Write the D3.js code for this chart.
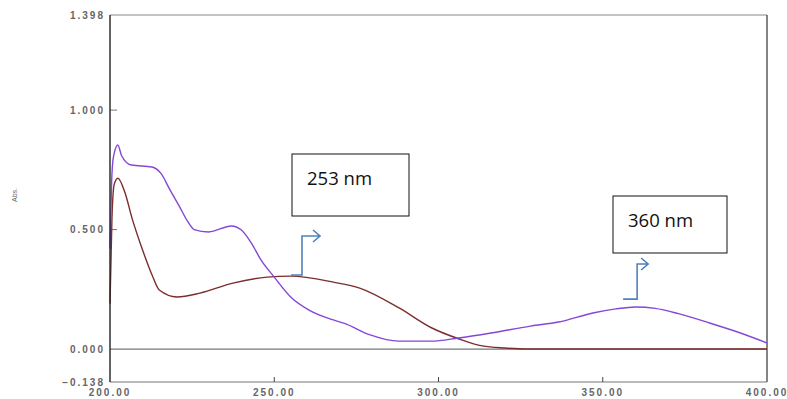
<!DOCTYPE html>
<html>
<head>
<meta charset="utf-8">
<script src="https://cdn.jsdelivr.net/npm/d3@7"></script>
<style>
  body { margin: 0; background: #fff; }
  .tick-label { font-family: "Liberation Sans", Arial, sans-serif; font-size: 10px; font-weight: bold; fill: #666; letter-spacing: 2px; }
  .note { font-family: "Open Sans", "Noto Sans", sans-serif; font-size: 18.5px; fill: #111; }
</style>
</head>
<body>
<div id="chart"></div>
<script>
// wavelength (nm) / absorbance pairs
var purpleWl  = [200.0, 200.5, 201.0, 202.4, 203.5, 206.5, 212.8, 215.5, 218.3, 221.0, 223.6, 225.6, 230.0, 237.0, 240.0, 243.0, 246.0, 250.0, 255.0, 260.6, 267.4, 271.4, 279.2, 287.8, 297.8, 306.0, 316.0, 328.0, 336.6, 347.0, 354.0, 360.0, 366.0, 373.0, 382.5, 392.8, 400.0]
var purpleAbs = [0.42, 0.70, 0.80, 0.854, 0.81, 0.77, 0.762, 0.735, 0.665, 0.60, 0.535, 0.50, 0.49, 0.515, 0.498, 0.444, 0.372, 0.301, 0.218, 0.163, 0.124, 0.107, 0.059, 0.033, 0.033, 0.046, 0.067, 0.096, 0.113, 0.151, 0.168, 0.176, 0.170, 0.148, 0.109, 0.063, 0.025]

var brownWl  = [200.0, 200.6, 201.3, 202.4, 204.5, 206.7, 209.7, 212.8, 215.0, 220.4, 227.4, 237.4, 247.8, 255.0, 268.0, 276.0, 288.0, 298.0, 306.3, 313.3, 320.3, 327.6, 400.0]
var brownAbs = [0.19, 0.55, 0.69, 0.715, 0.657, 0.548, 0.423, 0.31, 0.247, 0.218, 0.234, 0.276, 0.301, 0.305, 0.28, 0.255, 0.172, 0.088, 0.042, 0.013, 0.004, 0.0, 0.0]

var yTicks = [-0.138, 0.0, 0.5, 1.0, 1.398]
var xTicks = [200, 250, 300, 350, 400]

// annotation boxes: label and the foot of the arrow (wavelength / absorbance)
var notes = [
  { label: "253 nm", wl: 255.1, abs: 0.31 },
  { label: "360 nm", wl: 356.2, abs: 0.209 }
]

var width = 787, height = 399
var margin = { left: 110, right: 20, top: 15, bottom: 17 }

var svg = d3.select("#chart").append("svg")
  .attr("width", width)
  .attr("height", height)

var x = d3.scaleLinear().domain([200, 400]).range([margin.left, width - margin.right])
var y = d3.scaleLinear().domain([-0.138, 1.398]).range([height - margin.bottom, margin.top])

// frame
svg.append("line").attr("x1", x(200)).attr("x2", x(400)).attr("y1", y(1.398)).attr("y2", y(1.398))
  .attr("stroke", "#888").attr("stroke-width", 1.2)
svg.append("line").attr("x1", x(400)).attr("x2", x(400)).attr("y1", y(1.398)).attr("y2", y(-0.138))
  .attr("stroke", "#333").attr("stroke-width", 1.2)
svg.append("line").attr("x1", x(200)).attr("x2", x(400)).attr("y1", y(-0.138)).attr("y2", y(-0.138))
  .attr("stroke", "#777").attr("stroke-width", 1.2)
// zero line
svg.append("line").attr("x1", x(200)).attr("x2", x(400)).attr("y1", y(0)).attr("y2", y(0))
  .attr("stroke", "#777").attr("stroke-width", 1.2)

// y ticks (inside) and labels
svg.append("g").selectAll("line")
  .data([0.5, 1.0]).enter().append("line")
  .attr("x1", x(200)).attr("x2", x(200) + 7)
  .attr("y1", function(d) { return y(d) }).attr("y2", function(d) { return y(d) })
  .attr("stroke", "#777")
svg.append("g").selectAll("text")
  .data(yTicks).enter().append("text")
  .attr("class", "tick-label")
  .attr("x", x(200) - 5)
  .attr("y", function(d) { return y(d) })
  .attr("dy", "0.35em")
  .attr("text-anchor", "end")
  .text(d3.format(".3f"))

// x ticks and labels
svg.append("g").selectAll("line")
  .data(xTicks.slice(1, 4)).enter().append("line")
  .attr("x1", function(d) { return x(d) }).attr("x2", function(d) { return x(d) })
  .attr("y1", y(-0.138)).attr("y2", y(-0.138) - 5)
  .attr("stroke", "#444")
svg.append("g").selectAll("text")
  .data(xTicks).enter().append("text")
  .attr("class", "tick-label")
  .attr("x", function(d) { return x(d) })
  .attr("y", height - 3)
  .attr("text-anchor", "middle")
  .text(d3.format(".2f"))

// axis title
svg.append("text")
  .attr("transform", "translate(17,195) rotate(-90)")
  .attr("text-anchor", "middle")
  .style("font-family", "Liberation Sans, Arial, sans-serif")
  .style("font-size", "7px")
  .style("fill", "#666")
  .text("Abs.")

// spectra
var line = d3.line()
  .x(function(d) { return x(d[0]) })
  .y(function(d) { return y(d[1]) })
  .curve(d3.curveMonotoneX)

svg.append("path")
  .datum(d3.zip(brownWl, brownAbs))
  .attr("d", line)
  .attr("fill", "none")
  .attr("stroke", "#7b2d2d")
  .attr("stroke-width", 1.4)

svg.append("path")
  .datum(d3.zip(purpleWl, purpleAbs))
  .attr("d", line)
  .attr("fill", "none")
  .attr("stroke", "#8447d8")
  .attr("stroke-width", 1.4)

// left axis line on top
svg.append("line").attr("x1", x(200)).attr("x2", x(200)).attr("y1", y(1.398)).attr("y2", y(-0.138))
  .attr("stroke", "#222").attr("stroke-width", 1.4)

// annotation boxes with bent arrows
var boxes = [
  { x: 292, y: 154, w: 117, h: 62, step: 11, rise: 20, head: 18 },
  { x: 613, y: 196, w: 114, h: 57, step: 14, rise: 11, head: 11 }
]
notes.forEach(function(n, i) {
  var b = boxes[i]
  svg.append("rect")
    .attr("x", b.x).attr("y", b.y).attr("width", b.w).attr("height", b.h)
    .attr("fill", "#fff").attr("stroke", "#111").attr("stroke-width", 1)
  svg.append("text")
    .attr("class", "note")
    .attr("x", b.x + 15).attr("y", b.y + 31)
    .text(n.label)

  var bx = x(n.wl), by = y(n.abs)   // foot of the arrow
  var vx = bx + b.step, top = b.y + b.h + b.rise, tip = vx + b.head
  svg.append("path")
    .attr("d", "M" + bx + "," + by + "H" + vx + "V" + top + "H" + tip +
      "M" + (tip - 7) + "," + (top - 6) + "L" + tip + "," + top + "L" + (tip - 7) + "," + (top + 6))
    .attr("fill", "none")
    .attr("stroke", "#4f81bd")
    .attr("stroke-width", 1.6)
})
</script>
</body>
</html>
